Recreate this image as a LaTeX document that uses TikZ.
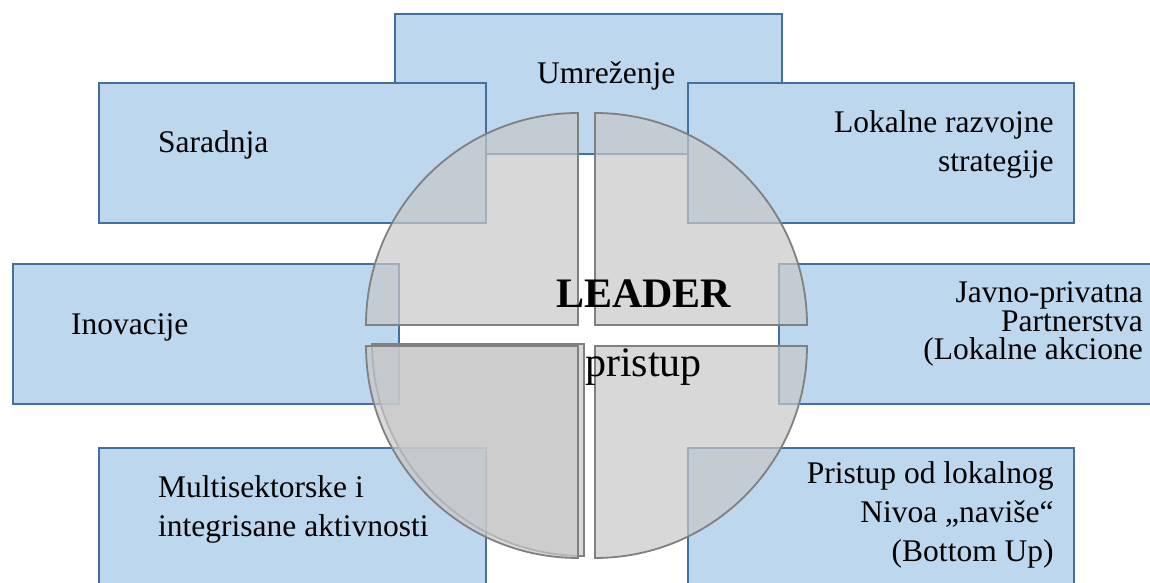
\documentclass[tikz,border=0pt]{standalone}
\usepackage{fontspec}
\setmainfont{Liberation Serif}

\definecolor{boxfill}{HTML}{BDD7EE}
\definecolor{boxline}{HTML}{41719C}
\definecolor{quadfill}{RGB}{200,200,200}
\definecolor{quadline}{RGB}{128,128,128}

\begin{document}
\begin{tikzpicture}[
        x=1pt, y=1pt,
        box/.style={draw=boxline, fill=boxfill, line width=1.8pt, rectangle, minimum width=387pt, minimum height=140pt, inner sep=0pt},
        txt/.style={font=\fontsize{31.5}{39}\selectfont, inner sep=0pt},
        big/.style={font=\fontsize{42}{48}\selectfont, inner sep=0pt},
        quad/.style={draw=quadline, line width=1.8pt, fill=quadfill, fill opacity=0.7}
    ]
        \useasboundingbox (0,0) rectangle (1150,583);
        \clip (0,0) rectangle (1150,583);

        % Boxes
        \node (umr) [box, anchor=north west] at (394,570) {};
        \node (sar) [box, anchor=north west] at (98,501) {};
        \node (lok) [box, anchor=north west, minimum width=386pt] at (687,501) {};
        \node (ino) [box, anchor=north west, minimum width=386pt] at (12,320) {};
        \node (jav) [box, anchor=north west, minimum width=400pt] at (778,320) {};
        \node (mul) [box, anchor=north west] at (98,136) {};
        \node (pri) [box, anchor=north west, minimum width=386pt] at (687,136) {};

        % Box texts (base = last line)
        \node (umr_t) [txt, anchor=base west] at ([xshift=143pt, yshift=-71pt]umr.north west) {Umreženje};
        \node (sar_t) [txt, anchor=base west] at ([xshift=60pt, yshift=-71pt]sar.north west) {Saradnja};
        \node (lok_t) [txt, anchor=base east, align=right] at ([xshift=-21pt, yshift=-90pt]lok.north east) {Lokalne razvojne\\strategije};
        \node (ino_t) [txt, anchor=base west] at ([xshift=59pt, yshift=-72pt]ino.north west) {Inovacije};
        \node (jav_t) [txt, anchor=base east, align=right, font=\fontsize{31.5}{28.5}\selectfont] at ([xshift=365pt, yshift=-97pt]jav.north west) {Javno-privatna\\Partnerstva\\(Lokalne akcione};
        \node (mul_t) [txt, anchor=base west, align=left] at ([xshift=60pt, yshift=-90pt]mul.north west) {Multisektorske i\\integrisane aktivnosti};
        \node (pri_t) [txt, anchor=base east, align=right] at ([xshift=-21pt, yshift=-115pt]pri.north east) {Pristup od lokalnog\\Nivoa „naviše“\\(Bottom Up)};

        % Circle
        \draw[quad] (578,258) -- (366,258) arc[start angle=180, end angle=90, radius=212pt] -- cycle;
        \draw[quad] (595,258) -- (595,470) arc[start angle=90, end angle=0, radius=212pt] -- cycle;
        \draw[quad] (595,237) -- (807,237) arc[start angle=0, end angle=-90, radius=212pt] -- cycle;
        \draw[quad] (584,239) -- (584,27) arc[start angle=270, end angle=180, radius=212pt] -- cycle;
        \draw[quad] (578,237) -- (578,25) arc[start angle=270, end angle=180, radius=212pt] -- cycle;

        % Centre
        \node (leader) [big, anchor=base west, font=\fontsize{42}{48}\selectfont\bfseries] at (556,275) {LEADER};
        \node (pristup) [big, anchor=base west] at (585,206) {pristup};
\end{tikzpicture}
\end{document}
